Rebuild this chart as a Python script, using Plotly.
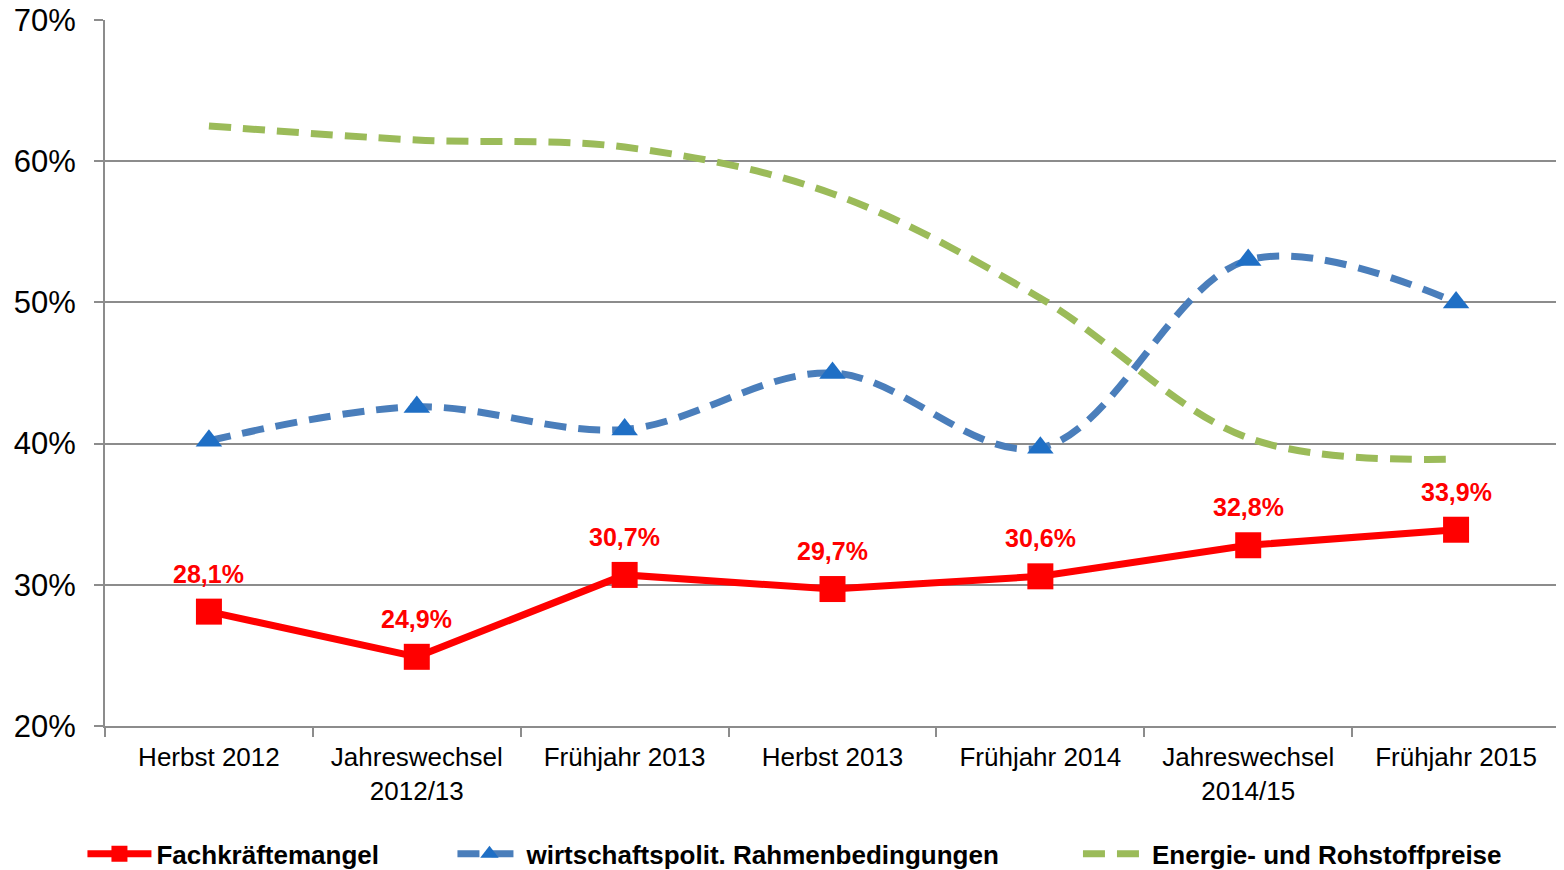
import plotly.graph_objects as go

categories = ["Herbst 2012", "Jahreswechsel<br>2012/13", "Frühjahr 2013", "Herbst 2013",
              "Frühjahr 2014", "Jahreswechsel<br>2014/15", "Frühjahr 2015"]
fachkraefte = [28.1, 24.9, 30.7, 29.7, 30.6, 32.8, 33.9]
rahmen = [40.2, 42.6, 41.0, 45.0, 39.7, 53.0, 50.0]
energie = [62.5, 61.5, 61.0, 57.7, 50.3, 40.4, 38.9]
y_ticks = [20, 30, 40, 50, 60, 70]

FONT = "Liberation Sans, Arial, sans-serif"
RED = "#FF0000"
BLUE = "#4A7EBB"
BLUE_MK = "#1F6FC5"
GREEN = "#9BBB59"
GRID = "#8C8C8C"

fig = go.Figure()

fig.add_trace(go.Scatter(
    x=categories, y=energie, name="Energie- und Rohstoffpreise",
    mode="lines", line=dict(color=GREEN, width=7, dash="22px,12px", shape="spline", smoothing=1),
    legend="legend3", hoverinfo="skip"))

fig.add_trace(go.Scatter(
    x=categories, y=rahmen, name="wirtschaftspolit. Rahmenbedingungen",
    mode="lines+markers", line=dict(color=BLUE, width=7, dash="22px,12px", shape="spline", smoothing=1),
    marker=dict(symbol="triangle-up", size=23, color=BLUE_MK),
    legend="legend2", hoverinfo="skip"))

fig.add_trace(go.Scatter(
    x=categories, y=fachkraefte, name="Fachkräftemangel",
    mode="lines+markers", line=dict(color=RED, width=7),
    marker=dict(symbol="square", size=26, color=RED),
    legend="legend", hoverinfo="skip"))

for c, v in zip(categories, fachkraefte):
    fig.add_annotation(x=c, y=v, text=f"{v:.1f}".replace(".", ",") + "%",
                       showarrow=False, yshift=38,
                       font=dict(family=FONT, size=25, color=RED, weight="bold"))

legend_common = dict(orientation="h", yanchor="middle", y=-0.181, xanchor="left",
                     font=dict(family=FONT, size=26, color="#000000", weight="bold"),
                     bgcolor="rgba(0,0,0,0)", itemwidth=64)

# the page body adds an 8px offset, so the figure is sized to fit the window from there
fig.update_layout(
    width=1556, height=862,
    margin=dict(l=97, r=4, t=12, b=144, autoexpand=False),
    paper_bgcolor="white", plot_bgcolor="white",
    font=dict(family=FONT, color="#000000"),
    showlegend=True,
    legend=dict(**legend_common, x=-0.0155),
    legend2=dict(**legend_common, x=0.2388),
    legend3=dict(**legend_common, x=0.6687),
    xaxis=dict(
        type="category", tickson="boundaries", ticks="outside", ticklen=9, tickwidth=2,
        tickcolor=GRID, showline=True, linecolor=GRID, linewidth=2, showgrid=False,
        tickfont=dict(family=FONT, size=26, color="#000000"), automargin=False,
        ticklabelstandoff=7, ticklabeloverflow="allow",
        range=[-0.5, len(categories) - 0.5], fixedrange=True),
    yaxis=dict(
        range=[20, 70], tickvals=y_ticks, ticktext=[f"{t}%" for t in y_ticks],
        ticks="outside", ticklen=9, tickwidth=2, tickcolor=GRID,
        showline=True, linecolor=GRID, linewidth=2, automargin=False,
        showgrid=True, gridcolor=GRID, gridwidth=2, zeroline=False,
        tickfont=dict(family=FONT, size=31, color="#000000"),
        ticklabelstandoff=12, ticklabeloverflow="allow", fixedrange=True),
)

fig.write_html("out.html")
